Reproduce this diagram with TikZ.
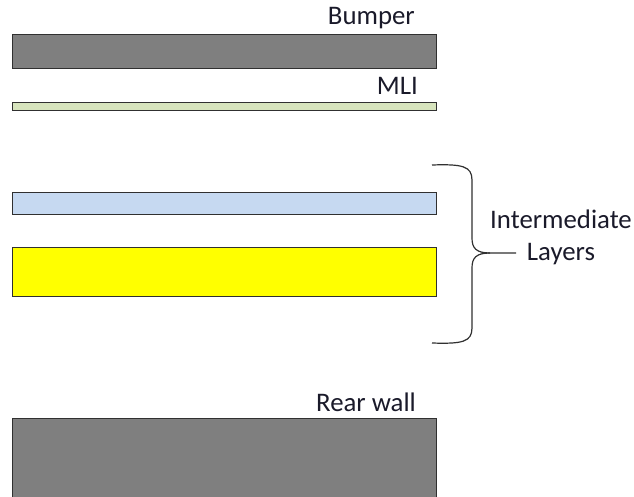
\documentclass[tikz,border=0pt]{standalone}
\usepackage{fontspec}
\setmainfont{Carlito}
\definecolor{wallgray}{HTML}{7F7F7F}
\definecolor{mligreen}{HTML}{D7E4BD}
\definecolor{layerblue}{HTML}{C6D9F1}
\definecolor{layeryellow}{HTML}{FFFF00}
\definecolor{txt}{HTML}{1A1A2A}
\definecolor{edge}{HTML}{303030}
\begin{document}
\begin{tikzpicture}[x=1pt,y=-1pt,
  plate/.style={draw=edge,line width=1.4pt,rectangle,inner sep=0pt,minimum width=424pt,anchor=north west},
  lbl/.style={text=txt,font=\fontsize{26.8}{30}\selectfont,inner sep=0pt,anchor=base east},
  bracestyle/.style={draw=edge,line width=1.2pt}]
\useasboundingbox (0,0) rectangle (634,497);
\node[plate,fill=wallgray,minimum height=34pt] (bumper) at (12,34) {};
\node[plate,fill=mligreen,minimum height=8pt] (mli) at (12,102) {};
\node[plate,fill=layerblue,minimum height=22pt] (blue) at (12,192) {};
\node[plate,fill=layeryellow,minimum height=49pt] (yellow) at (12,247) {};
\node[plate,fill=wallgray,minimum height=80pt] (rear) at (12,418) {};
\node[lbl] (lbump) at (415,25) {Bumper};
\node[lbl] (lmli) at (418,95) {MLI};
\node[lbl] (lrear) at (416,411) {Rear wall};
\node[text=txt,font=\fontsize{26.8}{32}\selectfont,align=center,inner sep=0pt] (linter) at (561,237) {Intermediate\\Layers};
\coordinate (btop) at (432,165);
\coordinate (bbot) at (432,343);
\coordinate (btip) at (516,253);
\draw[bracestyle] (btop) .. controls (462,164) and (472,166) .. (472,180)
  -- (472,238) .. controls (472,248) and (476,253) .. (490,253) -- (btip);
\draw[bracestyle] (bbot) .. controls (462,344) and (472,342) .. (472,328)
  -- (472,268) .. controls (472,258) and (476,253) .. (490,253);
\end{tikzpicture}
\end{document}
